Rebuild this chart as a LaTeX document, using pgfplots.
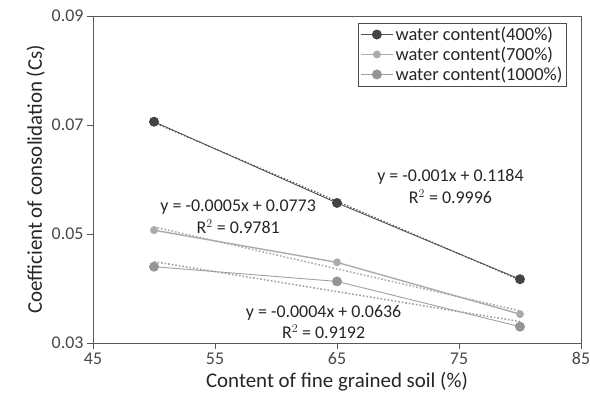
\documentclass[border=0pt]{standalone}
\usepackage{pgfplots}
\pgfplotsset{compat=1.18}
\usepackage{fontspec}
\setmainfont{Carlito}
\definecolor{sA}{HTML}{555555}
\definecolor{sAm}{HTML}{444444}
\definecolor{sB}{HTML}{ABABAB}
\definecolor{sC}{HTML}{A0A0A0}
\definecolor{sCm}{HTML}{959595}
\definecolor{axc}{HTML}{595959}
\begin{document}
\begin{tikzpicture}
\begin{axis}[
  scale only axis, width=488bp, height=327bp,
  xmin=45, xmax=85, ymin=0.03, ymax=0.09,
  xtick={45,55,...,85}, ytick={0.03,0.05,0.07,0.09},
  scaled y ticks=false,
  yticklabel style={/pgf/number format/fixed, /pgf/number format/precision=2, /pgf/number format/fixed zerofill},
  /pgf/number format/assume math mode=true,
  tick align=outside, tick pos=left, major tick length=6bp,
  axis line style={axc, line width=0.8pt}, tick style={axc, line width=0.8pt},
  ticklabel style={font=\fontsize{18}{20}\selectfont, text=black!72},
  xlabel={Content of fine grained soil (\%)},
  ylabel={Coefficient of consolidation (Cs)},
  label style={font=\fontsize{21}{24}\selectfont, text=black!85},
  legend style={at={(rel axis cs:0.543,0.979)}, anchor=north west, font=\fontsize{18.5}{21}\selectfont,
    draw=black!70, row sep=1bp, inner sep=2bp, legend cell align=left, text=black!85},
  legend image code/.code={\draw[mark repeat=2,mark phase=2] plot coordinates {(0bp,0bp) (16bp,0bp) (32bp,0bp)};},
]
\addplot[sA, line width=0.9pt, mark=*, mark size=4.5bp, mark options={fill=sAm, draw=sAm}]
  coordinates {(50,0.0706) (65,0.0557) (80,0.0417)};
\addlegendentry{water content(400\%)}
\addplot[sB, line width=1.4pt, mark=*, mark size=3.2bp, mark options={fill=sB, draw=sB}]
  coordinates {(50,0.0507) (65,0.0448) (80,0.0353)};
\addlegendentry{water content(700\%)}
\addplot[sC, line width=0.9pt, mark=*, mark size=4.5bp, mark options={fill=sCm, draw=sCm}]
  coordinates {(50,0.0440) (65,0.0413) (80,0.0330)};
\addlegendentry{water content(1000\%)}
\addplot[sA, line width=1.3pt, dotted, forget plot] coordinates {(50,0.07045) (80,0.04155)};
\addplot[sB, line width=1.6pt, dotted, forget plot] coordinates {(50,0.0513) (80,0.0359)};
\addplot[sC, line width=1.6pt, dotted, forget plot] coordinates {(50,0.04493) (80,0.03393)};
\node[font=\fontsize{18}{22}\selectfont, align=center, inner sep=0pt, text=black!85] at (axis cs:74.3,0.0587) {y = -0.001x + 0.1184\\R$^2$ = 0.9996};
\node[font=\fontsize{18}{22}\selectfont, align=center, inner sep=0pt, text=black!85] at (axis cs:56.9,0.0532) {y = -0.0005x + 0.0773\\R$^2$ = 0.9781};
\node[font=\fontsize{18}{22}\selectfont, align=center, inner sep=0pt, text=black!85] at (axis cs:63.9,0.03385) {y = -0.0004x + 0.0636\\R$^2$ = 0.9192};
\draw[axc, line width=0.8pt] (rel axis cs:0,1) -- (rel axis cs:1,1) -- (rel axis cs:1,0);
\end{axis}
\pgfresetboundingbox
\path[use as bounding box] (-93bp,-71bp) rectangle (497bp,343bp);
\end{tikzpicture}
\end{document}
